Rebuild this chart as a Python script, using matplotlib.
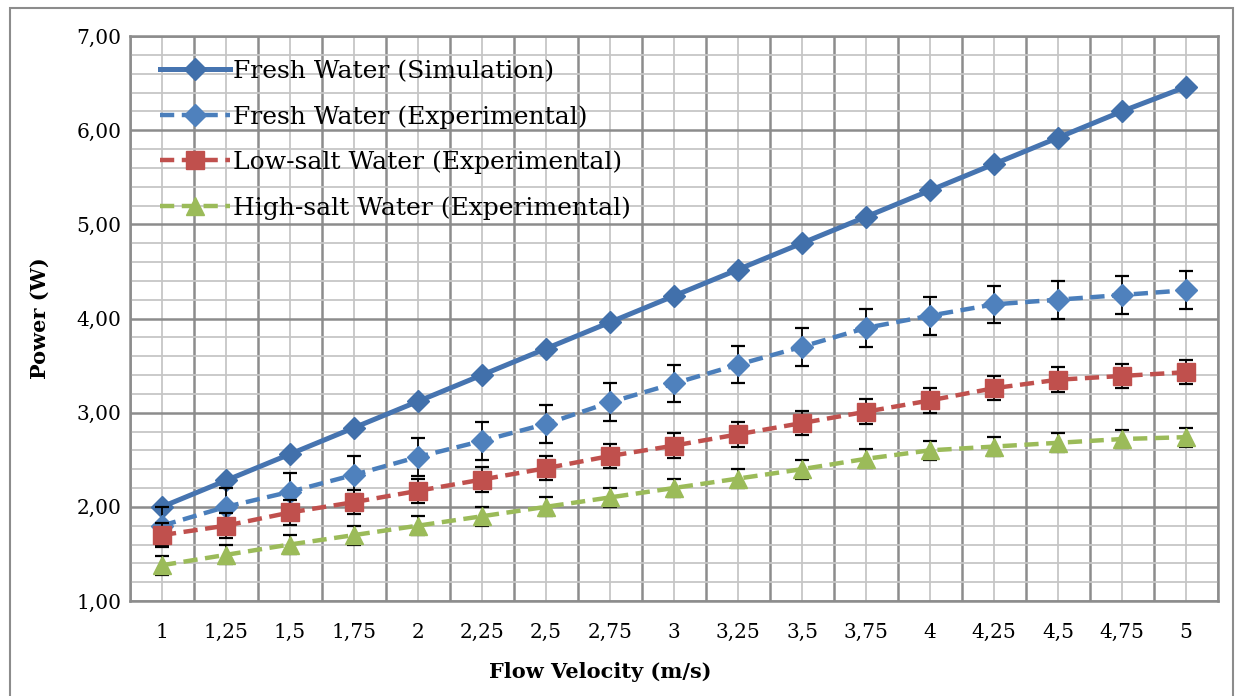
import numpy as np
import matplotlib
matplotlib.use("Agg")
import matplotlib.pyplot as plt
from matplotlib.patches import Rectangle
from matplotlib.ticker import FixedLocator, MultipleLocator, FuncFormatter

# ─── data ─────────────────────────────────────────────────────────────────────
velocity = ["1", "1,25", "1,5", "1,75", "2", "2,25", "2,5", "2,75", "3",
            "3,25", "3,5", "3,75", "4", "4,25", "4,5", "4,75", "5"]

fresh_sim = [2.00, 2.28, 2.56, 2.84, 3.12, 3.40, 3.68, 3.96, 4.24,
             4.52, 4.80, 5.08, 5.36, 5.64, 5.92, 6.20, 6.46]
fresh_exp = [1.80, 2.00, 2.16, 2.34, 2.53, 2.70, 2.88, 3.11, 3.31,
             3.51, 3.70, 3.90, 4.03, 4.15, 4.20, 4.25, 4.30]
low_exp   = [1.70, 1.80, 1.94, 2.05, 2.17, 2.29, 2.41, 2.54, 2.65,
             2.77, 2.89, 3.01, 3.13, 3.26, 3.35, 3.39, 3.43]
high_exp  = [1.38, 1.49, 1.60, 1.70, 1.80, 1.90, 2.00, 2.10, 2.20,
             2.30, 2.40, 2.51, 2.60, 2.64, 2.68, 2.72, 2.74]

fresh_err = [0.20] * 17
low_err   = [0.13] * 17
high_err  = [0.10] * 17

# ─── style ────────────────────────────────────────────────────────────────────
SERIF = "DejaVu Serif"
MAJ_GRID = "#8c8c8c"
MIN_GRID = "#c6c6c6"
DASH = (0, (3.2, 1.7))
EB = dict(ecolor="black", elinewidth=1.3, capsize=5, capthick=1.6)

fig = plt.figure(figsize=(12.35, 6.96), dpi=100)
ax = fig.add_axes([130 / 1235, 95 / 696, 1088 / 1235, 565 / 696])

x = np.arange(len(velocity))

sim_line, = ax.plot(x, fresh_sim, color="#4674b0", lw=3.6, marker="D", ms=11.5,
                    mfc="#4170ab", mec="#4170ab", zorder=3)
fe = ax.errorbar(x, fresh_exp, yerr=fresh_err, color="#4a7ebb", lw=3.2, ls=DASH,
                 marker="D", ms=11.5, mfc="#4f81bd", mec="#4f81bd", zorder=4, **EB)
lo = ax.errorbar(x, low_exp, yerr=low_err, color="#c0504d", lw=3.2, ls=DASH,
                 marker="s", ms=12.5, mfc="#c0504d", mec="#c0504d", zorder=5, **EB)
hi = ax.errorbar(x, high_exp, yerr=high_err, color="#9bbb59", lw=3.2, ls=DASH,
                 marker="^", ms=13, mfc="#9bbb59", mec="#9bbb59", zorder=6, **EB)

# axes and grid
ax.set_xlim(-0.5, len(velocity) - 0.5)
ax.set_ylim(1, 7)
ax.xaxis.set_major_locator(FixedLocator(x))
ax.set_xticklabels(velocity)
ax.xaxis.set_minor_locator(FixedLocator(np.arange(len(velocity) + 1) - 0.5))
ax.yaxis.set_major_locator(MultipleLocator(1))
ax.yaxis.set_minor_locator(MultipleLocator(0.2))
ax.yaxis.set_major_formatter(FuncFormatter(lambda v, p: f"{v:.2f}".replace(".", ",")))

ax.grid(False)
ax.grid(which="major", axis="y", color=MAJ_GRID, lw=1.8, zorder=0)
ax.grid(which="minor", axis="y", color=MIN_GRID, lw=1.3, zorder=0)
ax.grid(which="minor", axis="x", color=MAJ_GRID, lw=1.8, zorder=0)
ax.grid(which="major", axis="x", color=MIN_GRID, lw=1.3, zorder=0)
ax.set_axisbelow(True)

for s in ax.spines.values():
    s.set_color(MAJ_GRID)
    s.set_linewidth(1.8)

ax.tick_params(which="both", length=0)
ax.tick_params(axis="x", pad=16, labelsize=14.5)
ax.tick_params(axis="y", pad=6, labelsize=14.5)
for lab in ax.get_xticklabels() + ax.get_yticklabels():
    lab.set_fontfamily(SERIF)

fig.text(600 / 1235, 1 - 672 / 696, "Flow Velocity (m/s)", ha="center", va="center",
         family=SERIF, fontsize=15, fontweight="bold")
fig.text(40 / 1235, 1 - 318 / 696, "Power (W)", ha="center", va="center",
         rotation=90, family=SERIF, fontsize=15, fontweight="bold")

# legend uses the plain data lines, without error bars
ax.legend([sim_line, fe[0], lo[0], hi[0]],
          ["Fresh Water (Simulation)", "Fresh Water (Experimental)",
           "Low-salt Water (Experimental)", "High-salt Water (Experimental)"],
          loc="upper left", bbox_to_anchor=(0.018, 0.975), frameon=False,
          prop={"family": SERIF, "size": 18}, handlelength=2.8,
          handletextpad=0.12, labelspacing=0.88, borderaxespad=0)

# outer chart border
fig.patches.append(Rectangle((10 / 1235, -0.02), 1223 / 1235, 1.02 - 8 / 696,
                             transform=fig.transFigure, fill=False,
                             edgecolor="#8c8c8c", lw=1.5))

fig.savefig("out.png", dpi=100)
